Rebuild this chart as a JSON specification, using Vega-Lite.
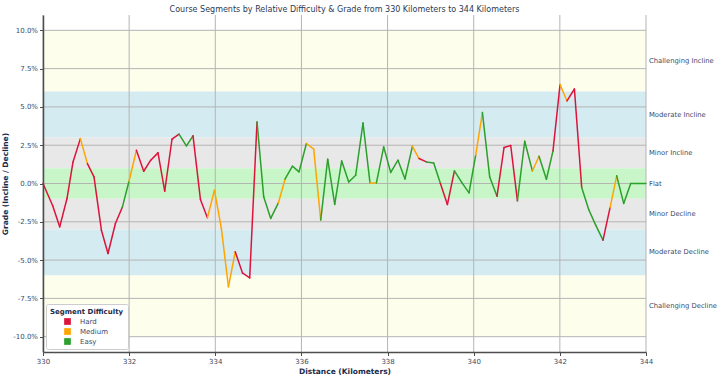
{
  "$schema": "https://vega.github.io/schema/vega-lite/v6.json",
  "width": 603,
  "height": 337,
  "autosize": {"type": "none"},
  "padding": {"left": 43, "top": 15, "right": 74, "bottom": 26},
  "title": {"text": "Course Segments by Relative Difficulty & Grade from 330 Kilometers to 344 Kilometers", "fontSize": 8, "font": "DejaVu Sans", "fontWeight": "normal", "color": "#2b3a55", "anchor": "middle", "offset": 1},
  "config": {
    "view": {"stroke": null},
    "font": "DejaVu Sans",
    "legend": {
      "orient": "bottom-left", "offset": 3, "fillColor": "white", "strokeColor": "#cccccc", "padding": 4, "cornerRadius": 2,
      "titleFontSize": 7, "titleFontWeight": "bold", "titleColor": "#1b2a4a", "titleFont": "DejaVu Sans",
      "labelFontSize": 7, "labelColor": "#3a4a68", "labelFont": "DejaVu Sans",
      "symbolType": "square", "symbolSize": 45, "symbolStrokeWidth": 0, "symbolOpacity": 1, "labelOffset": 9, "rowPadding": 2, "titlePadding": 3
    }
  },
  "datasets": {
    "bands": [
      {"zone": "Challenging Incline", "lo": 6, "hi": 10},
      {"zone": "Moderate Incline", "lo": 3, "hi": 6},
      {"zone": "Minor Incline", "lo": 1, "hi": 3},
      {"zone": "Flat", "lo": -1, "hi": 1},
      {"zone": "Minor Decline", "lo": -3, "hi": -1},
      {"zone": "Moderate Decline", "lo": -6, "hi": -3},
      {"zone": "Challenging Decline", "lo": -10, "hi": -6}
    ],
    "profile": [
      {"km": 330.000, "grade": 0.00, "difficulty": "Hard"},
      {"km": 330.225, "grade": -1.45, "difficulty": "Hard"},
      {"km": 330.388, "grade": -2.83, "difficulty": "Hard"},
      {"km": 330.557, "grade": -0.98, "difficulty": "Hard"},
      {"km": 330.697, "grade": 1.41, "difficulty": "Hard"},
      {"km": 330.868, "grade": 2.93, "difficulty": "Medium"},
      {"km": 331.031, "grade": 1.30, "difficulty": "Hard"},
      {"km": 331.184, "grade": 0.43, "difficulty": "Hard"},
      {"km": 331.356, "grade": -3.05, "difficulty": "Hard"},
      {"km": 331.509, "grade": -4.57, "difficulty": "Hard"},
      {"km": 331.681, "grade": -2.61, "difficulty": "Hard"},
      {"km": 331.844, "grade": -1.53, "difficulty": "Easy"},
      {"km": 331.997, "grade": 0.15, "difficulty": "Medium"},
      {"km": 332.169, "grade": 2.17, "difficulty": "Hard"},
      {"km": 332.338, "grade": 0.80, "difficulty": "Hard"},
      {"km": 332.501, "grade": 1.52, "difficulty": "Hard"},
      {"km": 332.670, "grade": 2.00, "difficulty": "Hard"},
      {"km": 332.826, "grade": -0.50, "difficulty": "Hard"},
      {"km": 332.995, "grade": 2.89, "difficulty": "Hard"},
      {"km": 333.158, "grade": 3.22, "difficulty": "Easy"},
      {"km": 333.329, "grade": 2.45, "difficulty": "Easy"},
      {"km": 333.483, "grade": 3.11, "difficulty": "Hard"},
      {"km": 333.655, "grade": -1.04, "difficulty": "Hard"},
      {"km": 333.817, "grade": -2.24, "difficulty": "Medium"},
      {"km": 333.980, "grade": -0.44, "difficulty": "Medium"},
      {"km": 334.142, "grade": -2.94, "difficulty": "Medium"},
      {"km": 334.305, "grade": -6.74, "difficulty": "Medium"},
      {"km": 334.463, "grade": -4.46, "difficulty": "Hard"},
      {"km": 334.630, "grade": -5.83, "difficulty": "Hard"},
      {"km": 334.799, "grade": -6.16, "difficulty": "Hard"},
      {"km": 334.969, "grade": 4.02, "difficulty": "Easy"},
      {"km": 335.124, "grade": -0.87, "difficulty": "Easy"},
      {"km": 335.287, "grade": -2.28, "difficulty": "Easy"},
      {"km": 335.465, "grade": -1.27, "difficulty": "Medium"},
      {"km": 335.619, "grade": 0.28, "difficulty": "Easy"},
      {"km": 335.791, "grade": 1.13, "difficulty": "Easy"},
      {"km": 335.944, "grade": 0.76, "difficulty": "Easy"},
      {"km": 336.116, "grade": 2.61, "difficulty": "Medium"},
      {"km": 336.285, "grade": 2.24, "difficulty": "Medium"},
      {"km": 336.448, "grade": -2.39, "difficulty": "Easy"},
      {"km": 336.610, "grade": 1.59, "difficulty": "Easy"},
      {"km": 336.773, "grade": -1.37, "difficulty": "Easy"},
      {"km": 336.935, "grade": 1.47, "difficulty": "Easy"},
      {"km": 337.098, "grade": 0.10, "difficulty": "Easy"},
      {"km": 337.260, "grade": 0.54, "difficulty": "Easy"},
      {"km": 337.430, "grade": 3.95, "difficulty": "Easy"},
      {"km": 337.592, "grade": 0.04, "difficulty": "Medium"},
      {"km": 337.741, "grade": 0.04, "difficulty": "Easy"},
      {"km": 337.910, "grade": 2.39, "difficulty": "Easy"},
      {"km": 338.073, "grade": 0.72, "difficulty": "Easy"},
      {"km": 338.242, "grade": 1.52, "difficulty": "Easy"},
      {"km": 338.405, "grade": 0.30, "difficulty": "Easy"},
      {"km": 338.577, "grade": 2.43, "difficulty": "Medium"},
      {"km": 338.730, "grade": 1.63, "difficulty": "Hard"},
      {"km": 338.902, "grade": 1.41, "difficulty": "Easy"},
      {"km": 339.071, "grade": 1.34, "difficulty": "Easy"},
      {"km": 339.227, "grade": 0.00, "difficulty": "Hard"},
      {"km": 339.389, "grade": -1.37, "difficulty": "Hard"},
      {"km": 339.552, "grade": 0.82, "difficulty": "Easy"},
      {"km": 339.721, "grade": 0.07, "difficulty": "Easy"},
      {"km": 339.891, "grade": -0.61, "difficulty": "Easy"},
      {"km": 340.046, "grade": 1.85, "difficulty": "Medium"},
      {"km": 340.202, "grade": 4.63, "difficulty": "Easy"},
      {"km": 340.371, "grade": 0.43, "difficulty": "Easy"},
      {"km": 340.541, "grade": -0.83, "difficulty": "Hard"},
      {"km": 340.704, "grade": 2.35, "difficulty": "Hard"},
      {"km": 340.859, "grade": 2.48, "difficulty": "Hard"},
      {"km": 341.015, "grade": -1.13, "difficulty": "Easy"},
      {"km": 341.184, "grade": 2.76, "difficulty": "Easy"},
      {"km": 341.363, "grade": 0.82, "difficulty": "Medium"},
      {"km": 341.516, "grade": 1.78, "difficulty": "Easy"},
      {"km": 341.688, "grade": 0.28, "difficulty": "Easy"},
      {"km": 341.841, "grade": 2.13, "difficulty": "Hard"},
      {"km": 342.004, "grade": 6.46, "difficulty": "Medium"},
      {"km": 342.166, "grade": 5.39, "difficulty": "Hard"},
      {"km": 342.338, "grade": 6.17, "difficulty": "Hard"},
      {"km": 342.507, "grade": -0.26, "difficulty": "Easy"},
      {"km": 342.670, "grade": -1.70, "difficulty": "Easy"},
      {"km": 342.832, "grade": -2.72, "difficulty": "Easy"},
      {"km": 343.002, "grade": -3.70, "difficulty": "Hard"},
      {"km": 343.164, "grade": -1.59, "difficulty": "Medium"},
      {"km": 343.320, "grade": 0.50, "difficulty": "Easy"},
      {"km": 343.482, "grade": -1.30, "difficulty": "Easy"},
      {"km": 343.645, "grade": 0.00, "difficulty": "Easy"},
      {"km": 343.820, "grade": 0.00, "difficulty": "Easy"},
      {"km": 344.000, "grade": 0.00, "difficulty": "Easy"}
    ]
  },
  "layer": [
    {
      "data": {"name": "bands"},
      "mark": {"type": "rect"},
      "encoding": {
        "y": {"field": "lo", "type": "quantitative", "title": "Grade (Incline / Decline)",
          "scale": {"domain": [-11, 11], "nice": false, "zero": false},
          "axis": {"values": [-10, -7.5, -5, -2.5, 0, 2.5, 5, 7.5, 10], "labelExpr": "(datum.value < 0 ? '-' : '') + format(abs(datum.value), '.1f') + '%'",
            "grid": false, "domainColor": "#4d4d4d", "domainWidth": 1.5, "tickColor": "#4d4d4d", "tickSize": 3.5, "labelFlush": false,
            "labelFontSize": 7, "labelColor": "#3a4a68", "labelPadding": 2, "labelFont": "DejaVu Sans",
            "titleFontSize": 7.5, "titleFontWeight": "bold", "titleColor": "#1b2a4a", "titleFont": "DejaVu Sans", "titlePadding": 3, "zindex": 1}},
        "y2": {"field": "hi"},
        "fill": {"field": "zone", "type": "nominal", "legend": null,
          "scale": {"domain": ["Challenging Incline", "Moderate Incline", "Minor Incline", "Flat", "Minor Decline", "Moderate Decline", "Challenging Decline"],
            "range": ["#FEFEEC", "#D5EBF2", "#E8E8E8", "#C8F6C8", "#E8E8E8", "#D5EBF2", "#FEFEEC"]}}
      }
    },
    {
      "data": {"values": [{"km": 330}, {"km": 332}, {"km": 334}, {"km": 336}, {"km": 338}, {"km": 340}, {"km": 342}, {"km": 344}]},
      "mark": {"type": "rule", "color": "#b4b4b4", "strokeWidth": 1},
      "encoding": {"x": {"field": "km", "type": "quantitative", "title": "Distance (Kilometers)"}}
    },
    {
      "data": {"values": [{"grade": -10}, {"grade": -7.5}, {"grade": -5}, {"grade": -2.5}, {"grade": 0}, {"grade": 2.5}, {"grade": 5}, {"grade": 7.5}, {"grade": 10}]},
      "mark": {"type": "rule", "color": "#b4b4b4", "strokeWidth": 1},
      "encoding": {"y": {"field": "grade", "type": "quantitative", "title": "Grade (Incline / Decline)"}}
    },
    {
      "data": {"name": "profile"},
      "transform": [
        {"window": [{"op": "lead", "field": "km", "as": "km2"}, {"op": "lead", "field": "grade", "as": "grade2"}], "sort": [{"field": "km"}]},
        {"filter": "datum.km2 != null"}
      ],
      "mark": {"type": "rule", "strokeWidth": 1.5, "strokeCap": "round"},
      "encoding": {
        "x": {"field": "km", "type": "quantitative", "title": "Distance (Kilometers)",
          "scale": {"domain": [330, 344], "nice": false, "zero": false},
          "axis": {"values": [330, 332, 334, 336, 338, 340, 342, 344], "format": "d", "grid": false, "labelFlush": false,
            "domainColor": "#4d4d4d", "domainWidth": 1.5, "tickColor": "#4d4d4d", "tickSize": 3.5,
            "labelFontSize": 7, "labelColor": "#3a4a68", "labelPadding": 2, "labelFont": "DejaVu Sans",
            "titleFontSize": 7.5, "titleFontWeight": "bold", "titleColor": "#1b2a4a", "titleFont": "DejaVu Sans", "titlePadding": 3, "zindex": 1}},
        "x2": {"field": "km2"},
        "y": {"field": "grade", "type": "quantitative", "title": "Grade (Incline / Decline)"},
        "y2": {"field": "grade2"},
        "color": {"field": "difficulty", "type": "nominal", "title": "Segment Difficulty",
          "scale": {"domain": ["Hard", "Medium", "Easy"], "range": ["#DC143C", "#FFA500", "#2CA02C"]},
          "legend": {"symbolOffset": 14, "encode": {"symbols": {"update": {"fill": {"scale": "color", "field": "value"}, "stroke": {"value": "transparent"}}}}}}
      }
    },
    {
      "data": {"name": "bands"},
      "transform": [{"calculate": "(datum.lo + datum.hi) / 2", "as": "mid"}],
      "mark": {"type": "text", "align": "left", "baseline": "middle", "dx": 3, "fontSize": 6.8, "font": "DejaVu Sans", "color": "#3a4a68"},
      "encoding": {
        "x": {"datum": 344, "type": "quantitative"},
        "y": {"field": "mid", "type": "quantitative", "title": "Grade (Incline / Decline)"},
        "text": {"field": "zone"}
      }
    }
  ]
}
